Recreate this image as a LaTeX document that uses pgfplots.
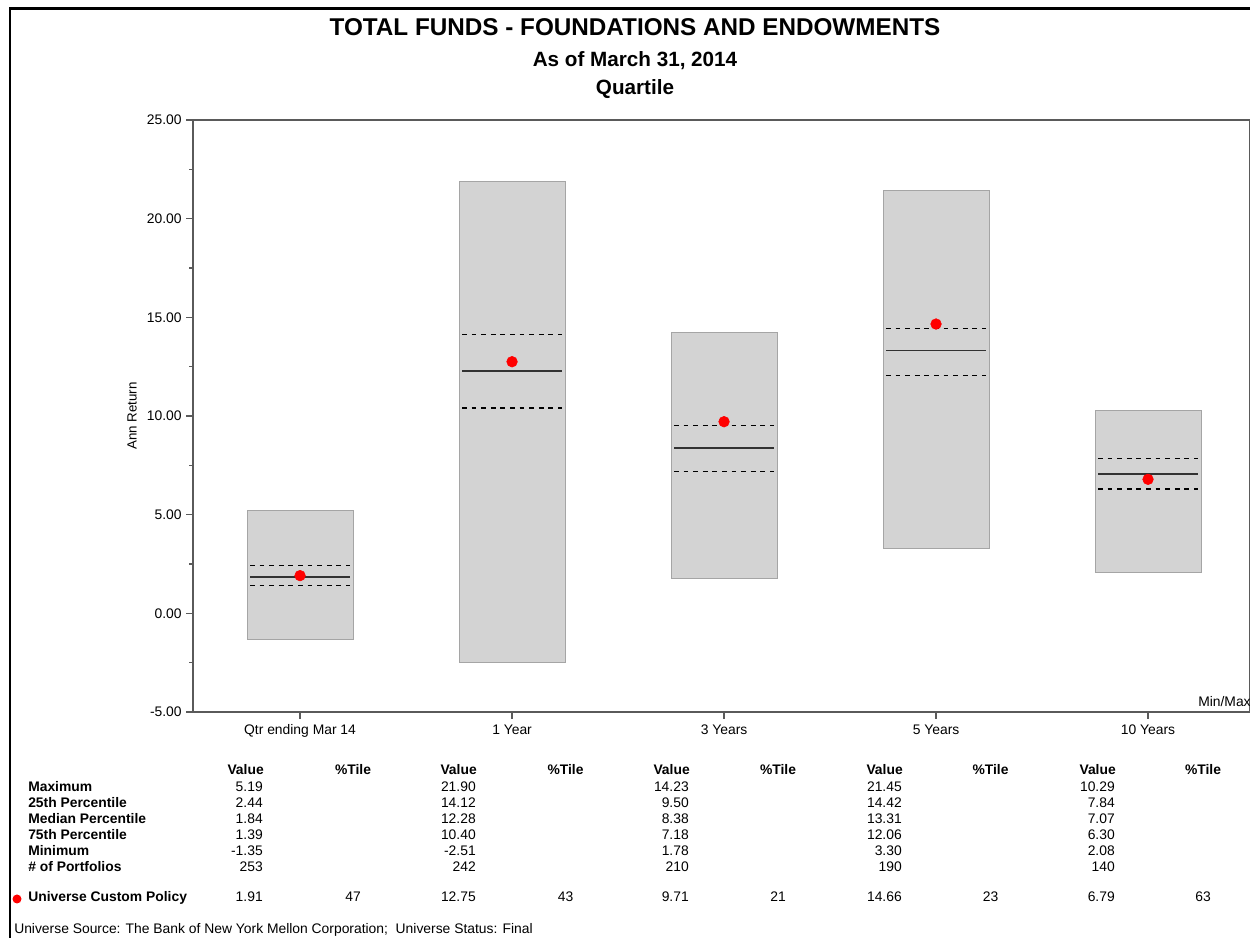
\documentclass[border=0pt]{standalone}
\usepackage{pgfplots}
\pgfplotsset{compat=1.18}
\usepackage{pgfplotstable}
\usepackage{fontspec}
\setmainfont{Liberation Sans}
\definecolor{boxfill}{RGB}{211,211,211}
\definecolor{boxedge}{RGB}{165,165,165}
\definecolor{axisline}{RGB}{90,90,90}
\definecolor{medline}{RGB}{50,50,50}
\definecolor{dotred}{RGB}{255,0,0}
\newcommand{\sm}{\fontsize{10.4}{12}\selectfont}
\tikzset{val/.style={font=\sm, anchor=base east, inner sep=0pt}}
\newcommand{\tcol}[7]{%
  \node[val] at (263+213*#1,938-792) {#2};
  \node[val] at (263+213*#1,938-808) {#3};
  \node[val] at (263+213*#1,938-824) {#4};
  \node[val] at (263+213*#1,938-840) {#5};
  \node[val] at (263+213*#1,938-856) {#6};
  \node[val] at (263+213*#1,938-872) {#7};
}

\pgfplotstableread{
x min q3 med q1 max pol
0 -1.35 1.39 1.84 2.44 5.19 1.91
1 -2.51 10.40 12.28 14.12 21.90 12.75
2 1.78 7.18 8.38 9.50 14.23 9.71
3 3.30 12.06 13.31 14.42 21.45 14.66
4 2.08 6.30 7.07 7.84 10.29 6.79
}\stats

\begin{document}
\begin{tikzpicture}[x=0.75pt,y=0.75pt]
\useasboundingbox (0,0) rectangle (1250,938);
\coordinate (axpos) at (193,226);
% frame
\draw[line width=1.6pt,black] (10,0) -- (10,929.5) -- (1250,929.5);
% titles
\node[font=\fontsize{18.2}{22}\selectfont\bfseries, anchor=base] at (635,938-36) {TOTAL FUNDS - FOUNDATIONS AND ENDOWMENTS};
\node[font=\fontsize{15.5}{18}\selectfont\bfseries, anchor=base] at (635,938-67) {As of March 31, 2014};
\node[font=\fontsize{15.5}{18}\selectfont\bfseries, anchor=base] at (635,938-95) {Quartile};

\begin{axis}[
  at={(axpos)}, anchor=south west,
  scale only axis, width=792.75pt, height=444pt,
  xmin=-0.505, xmax=4.481, ymin=-5, ymax=25,
  axis line style={axisline, line width=1.4pt},
  tick align=outside, tick pos=left,
  major tick length=5pt, minor tick length=3pt,
  every tick/.style={axisline, line width=0.9pt},
  ytick={-5,0,5,10,15,20,25}, minor y tick num=1,
  xtick={0,1,2,3,4},
  xticklabels={Qtr ending Mar 14, 1 Year, 3 Years, 5 Years, 10 Years},
  xticklabel style={yshift=-1pt, text height=7.6pt, text depth=2.2pt},
  yticklabel style={/pgf/number format/.cd, fixed, fixed zerofill, precision=2, assume math mode=true},
  ticklabel style={font=\sm},
  ylabel={Ann Return},
  every axis y label/.style={at={(axis description cs:-0.0577,0.5)}, rotate=90, anchor=center, font=\fontsize{10}{12}\selectfont},
  clip=false,
]
\addplot[fill=boxfill, draw=boxedge, line width=0.8pt] coordinates {(-0.25,-1.35) (0.25,-1.35) (0.25,5.19) (-0.25,5.19)} --cycle;
\addplot[fill=boxfill, draw=boxedge, line width=0.8pt] coordinates {(0.75,-2.51) (1.25,-2.51) (1.25,21.90) (0.75,21.90)} --cycle;
\addplot[fill=boxfill, draw=boxedge, line width=0.8pt] coordinates {(1.75,1.78) (2.25,1.78) (2.25,14.23) (1.75,14.23)} --cycle;
\addplot[fill=boxfill, draw=boxedge, line width=0.8pt] coordinates {(2.75,3.30) (3.25,3.30) (3.25,21.45) (2.75,21.45)} --cycle;
\addplot[fill=boxfill, draw=boxedge, line width=0.8pt] coordinates {(3.75,2.08) (4.25,2.08) (4.25,10.29) (3.75,10.29)} --cycle;
\addplot[black, line width=0.9pt, dash pattern=on 3.6pt off 3.6pt] coordinates {(-0.236,2.44) (0.236,2.44)};
\addplot[black, line width=0.9pt, dash pattern=on 3.6pt off 3.6pt] coordinates {(0.764,14.12) (1.236,14.12)};
\addplot[black, line width=0.9pt, dash pattern=on 3.6pt off 3.6pt] coordinates {(1.764,9.50) (2.236,9.50)};
\addplot[black, line width=0.9pt, dash pattern=on 3.6pt off 3.6pt] coordinates {(2.764,14.42) (3.236,14.42)};
\addplot[black, line width=0.9pt, dash pattern=on 3.6pt off 3.6pt] coordinates {(3.764,7.84) (4.236,7.84)};
\addplot[black, line width=0.9pt, dash pattern=on 3.6pt off 3.6pt] coordinates {(-0.236,1.39) (0.236,1.39)};
\addplot[black, line width=0.9pt, dash pattern=on 3.6pt off 3.6pt] coordinates {(0.764,10.40) (1.236,10.40)};
\addplot[black, line width=0.9pt, dash pattern=on 3.6pt off 3.6pt] coordinates {(1.764,7.18) (2.236,7.18)};
\addplot[black, line width=0.9pt, dash pattern=on 3.6pt off 3.6pt] coordinates {(2.764,12.06) (3.236,12.06)};
\addplot[black, line width=0.9pt, dash pattern=on 3.6pt off 3.6pt] coordinates {(3.764,6.30) (4.236,6.30)};
\addplot[medline, line width=1.1pt] coordinates {(-0.236,1.84) (0.236,1.84)};
\addplot[medline, line width=1.1pt] coordinates {(0.764,12.28) (1.236,12.28)};
\addplot[medline, line width=1.1pt] coordinates {(1.764,8.38) (2.236,8.38)};
\addplot[medline, line width=1.1pt] coordinates {(2.764,13.31) (3.236,13.31)};
\addplot[medline, line width=1.1pt] coordinates {(3.764,7.07) (4.236,7.07)};
\addplot[only marks, mark=*, mark size=4pt, color=dotred, mark options={draw=dotred, fill=dotred}] table[x=x, y=pol] {\stats};
\end{axis}

\node[font=\sm, anchor=base west, inner sep=0pt] at (1198,938-707) {Min/Max};

\foreach \i in {0,...,4}{
  \node[font=\sm\bfseries, anchor=base east, inner sep=0pt] at (264+213*\i,938-775) {Value};
  \node[font=\sm\bfseries, anchor=base, inner sep=0pt] at (353+212.5*\i,938-775) {\%Tile};
}
\foreach \lab [count=\r from 0] in {Maximum,25th Percentile,Median Percentile,75th Percentile,Minimum,\# of Portfolios}{
  \node[font=\sm\bfseries, anchor=base west, inner sep=0pt] at (28,938-792-16*\r) {\lab};
}
\tcol{0}{5.19}{2.44}{1.84}{1.39}{-1.35}{253}
\tcol{1}{21.90}{14.12}{12.28}{10.40}{-2.51}{242}
\tcol{2}{14.23}{9.50}{8.38}{7.18}{1.78}{210}
\tcol{3}{21.45}{14.42}{13.31}{12.06}{3.30}{190}
\tcol{4}{10.29}{7.84}{7.07}{6.30}{2.08}{140}

\fill[dotred] (17,938-899) circle (4.5);
\node[font=\sm\bfseries, anchor=base west, inner sep=0pt] at (28,938-902) {Universe Custom Policy};
\foreach \v/\p [count=\i from 0] in {1.91/47, 12.75/43, 9.71/21, 14.66/23, 6.79/63}{
  \node[val] at (263+213*\i,938-902) {\v};
  \node[font=\sm, anchor=base, inner sep=0pt] at (353+212.5*\i,938-902) {\p};
}
\node[font=\sm, anchor=base west, inner sep=0pt] at (14,938-934) {Universe Source: The Bank of New York Mellon Corporation;\ \ Universe Status: Final};
\end{tikzpicture}
\end{document}
